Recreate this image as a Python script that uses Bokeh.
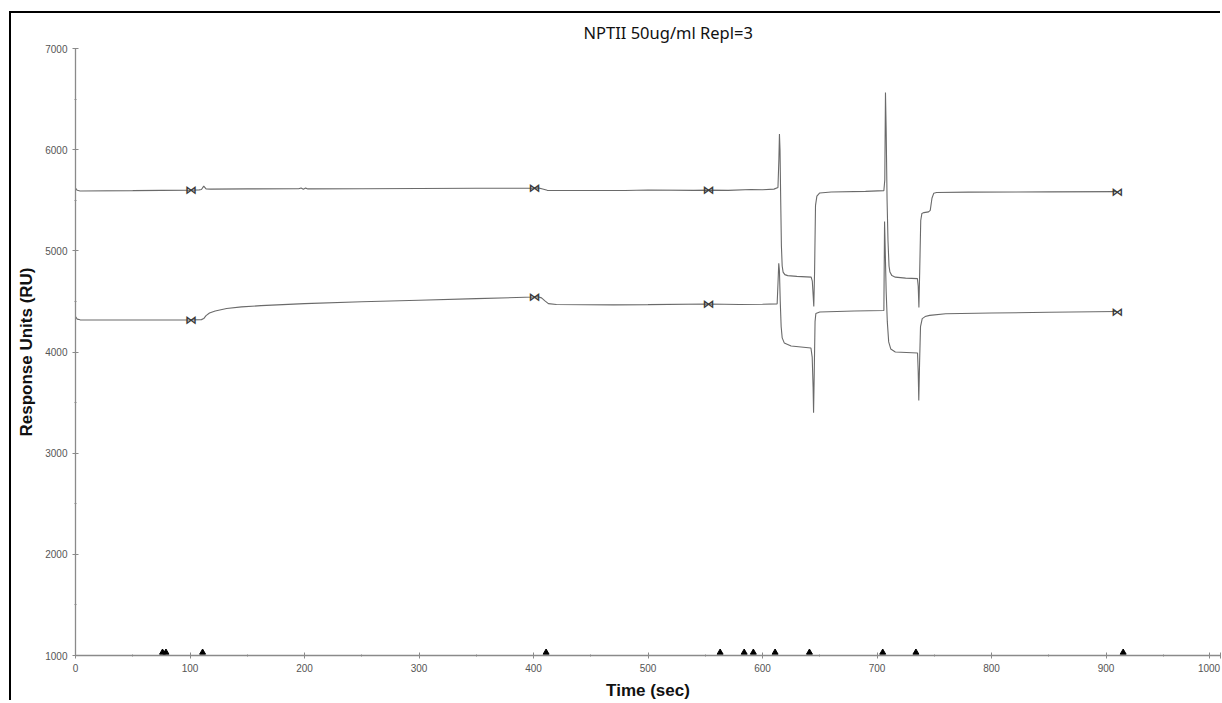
from bokeh.plotting import figure
from bokeh.models import FixedTicker, Range1d
from bokeh.core.properties import value
from bokeh.embed import file_html
from bokeh.resources import INLINE

title_text = "NPTII 50ug/ml Repl=3"
x_label = "Time (sec)"
y_label = "Response Units (RU)"

x_ticks = [0, 100, 200, 300, 400, 500, 600, 700, 800, 900, 1000]
x_minor = [50, 150, 250, 350, 450, 550, 650, 750, 850, 950]
y_ticks = [1000, 2000, 3000, 4000, 5000, 6000, 7000]
y_minor = [1500, 2500, 3500, 4500, 5500, 6500]

# upper sensorgram
t1 = [0, 1.5, 4, 50, 100, 108, 110, 112, 114, 118,
      150, 195, 197, 199, 201, 203, 250, 300, 350, 400,
      404, 408, 412, 420, 480, 500, 540, 553, 570, 590,
      600, 610, 613.5, 614.3, 614.8, 615.3, 615.9, 616.5, 617.2, 618,
      619.5, 622, 630, 642.5, 643.5, 644.3, 644.8, 645.5, 646.3, 647.5,
      650, 660, 690, 706, 706.8, 707.4, 708, 708.8, 709.6, 710.5,
      711.3, 713, 716, 725, 735.3, 736, 736.6, 737.3, 738.2, 739.2,
      741, 745, 746.5, 748, 749.6, 752, 780, 850, 910]
v1 = [5620, 5598, 5592, 5595, 5600, 5603, 5606, 5640, 5612, 5610,
      5612, 5613, 5622, 5608, 5620, 5612, 5614, 5616, 5618, 5620,
      5622, 5612, 5598, 5596, 5597, 5602, 5598, 5600, 5598, 5606,
      5604, 5610, 5625, 5900, 6155, 6000, 5500, 5050, 4850, 4790,
      4765, 4755, 4748, 4740, 4700, 4550, 4450, 4800, 5450, 5540,
      5572, 5582, 5588, 5595, 5700, 6565, 6200, 5500, 5100, 4850,
      4790, 4755, 4740, 4730, 4725, 4650, 4440, 4800, 5300, 5370,
      5378, 5385, 5400, 5520, 5570, 5576, 5580, 5583, 5585]

# lower sensorgram
t2 = [0, 1.5, 4, 50, 100, 110, 112, 114, 117, 122,
      132, 145, 162, 200, 250, 300, 350, 400, 404, 407,
      410, 413, 420, 470, 500, 553, 580, 600, 612.8, 613.6,
      614.2, 614.8, 615.5, 616.3, 617.2, 619, 625, 642.3, 643.4, 644.2,
      644.6, 645.2, 645.9, 646.6, 650, 680, 706, 706.6, 707.2, 708,
      709, 710.2, 712, 716, 735.4, 736, 736.5, 737.2, 738, 739.5,
      742, 746, 760, 800, 850, 910]
v2 = [4350, 4325, 4318, 4317, 4318, 4320, 4330, 4360, 4385, 4405,
      4430, 4446, 4458, 4478, 4497, 4512, 4528, 4543, 4546, 4535,
      4505, 4478, 4470, 4466, 4468, 4475, 4470, 4472, 4476, 4700,
      4878, 4800, 4500, 4250, 4140, 4090, 4060, 4040, 3950, 3650,
      3400, 3800, 4300, 4380, 4395, 4405, 4410, 5290, 5000, 4600,
      4300, 4100, 4030, 4000, 3990, 3800, 3520, 3900, 4250, 4330,
      4350, 4362, 4378, 4385, 4393, 4400]

# report point markers
mark_t = [101, 401, 553, 910]
mark_v1 = [5600, 5620, 5600, 5585]
mark_v2 = [4318, 4545, 4475, 4400]

# injection event markers on the time axis
inject_t = [76, 79, 111, 411, 563, 584, 592, 611, 641, 705, 734, 915]
inject_v = [1030] * len(inject_t)

p = figure(width=1211, height=689,
           x_range=Range1d(0, 1000), y_range=Range1d(1000, 7000),
           output_backend="svg", toolbar_location=None,
           min_border_left=64, min_border_right=2,
           min_border_top=33, min_border_bottom=47,
           title=title_text, margin=(13, 0, 0, 11))
# black page rules along the top and the left edge
p.styles = {"box-shadow": "-2px -2px 0px 0px black"}

p.outline_line_color = None
p.xgrid.visible = False
p.ygrid.visible = False
p.background_fill_color = "white"
p.border_fill_color = "white"

p.title.text_font = "Noto Sans"
p.title.text_font_size = "16.5px"
p.title.text_font_style = "normal"
p.title.text_color = "#111111"
p.title.align = "left"
p.title.offset = 508

for ax in (p.xaxis[0], p.yaxis[0]):
    ax.axis_line_color = "#8a8a8a"
    ax.axis_line_width = 1.3
    ax.major_tick_line_color = "#8a8a8a"
    ax.minor_tick_line_color = "#8a8a8a"
    ax.major_tick_in = 3
    ax.major_tick_out = 3
    ax.minor_tick_in = 1
    ax.minor_tick_out = 1
    ax.major_label_text_font = "Liberation Sans"
    ax.major_label_text_font_size = "10px"
    ax.major_label_text_color = "#555555"
    ax.major_label_standoff = 5
    ax.axis_label_text_font = "Liberation Sans"
    ax.axis_label_text_font_style = "bold"
    ax.axis_label_text_font_size = "17px"
    ax.axis_label_text_color = "#111111"
    ax.axis_label_standoff = 6

# the last time label sits at the page edge: it is shown one step to the left
# of its tick so that it stays inside the page
last_label_tick = x_ticks[-1] - 10
p.xaxis.ticker = FixedTicker(ticks=x_ticks[:-1] + [last_label_tick, x_ticks[-1]],
                             minor_ticks=x_minor)
p.xaxis.major_label_overrides = {last_label_tick: str(x_ticks[-1]), x_ticks[-1]: ""}
p.yaxis.ticker = FixedTicker(ticks=y_ticks, minor_ticks=y_minor)
p.xaxis.axis_label = x_label
p.yaxis.axis_label = y_label

p.line(t1, v1, line_color="#6a6a6a", line_width=1.1)
p.line(t2, v2, line_color="#6a6a6a", line_width=1.1)

for mv in (mark_v1, mark_v2):
    p.text(x=mark_t, y=mv, text=["\u22c8"] * len(mark_t),
           text_align="center", text_baseline="middle",
           text_font=value("DejaVu Sans"), text_font_size="12px",
           text_font_style="bold", text_color="#3a3a3a")

p.scatter(inject_t, inject_v, marker="triangle", size=6,
          fill_color="black", line_color="black")

open("out.html", "w").write(file_html(p, INLINE))
